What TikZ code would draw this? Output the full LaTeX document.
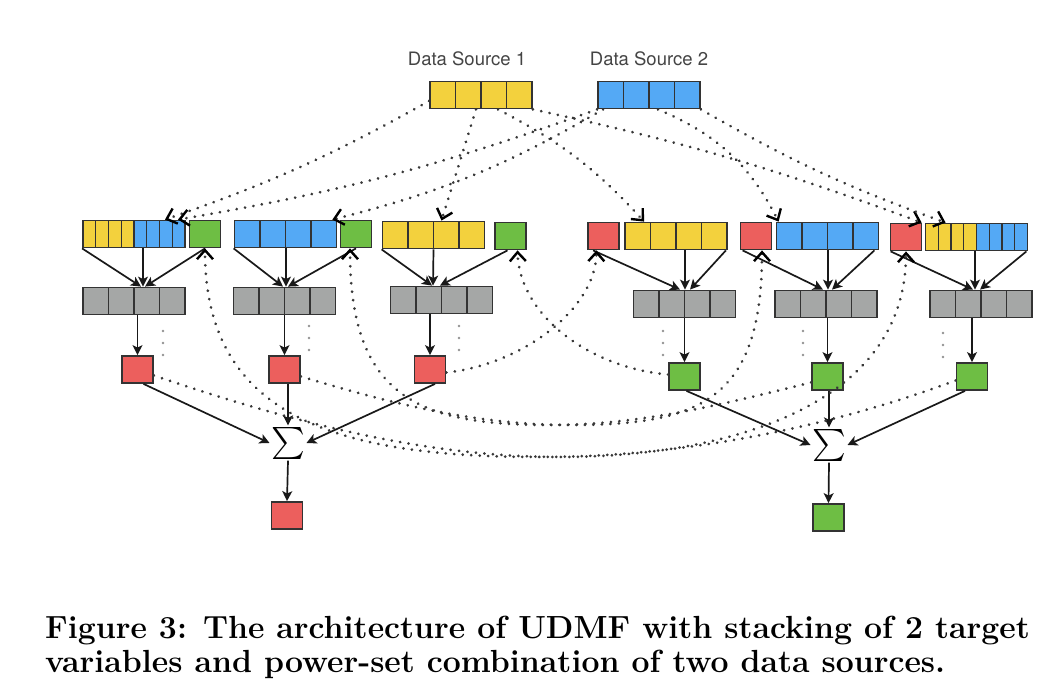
\documentclass[tikz,border=0pt]{standalone}
\usepackage{fontspec}
\setsansfont{TeX Gyre Heros}
\usetikzlibrary{arrows.meta}
\definecolor{yel}{HTML}{F3D13D}
\definecolor{blu}{HTML}{54A9F5}
\definecolor{grn}{HTML}{6EBE44}
\definecolor{rd}{HTML}{EC5F5D}
\definecolor{gry}{HTML}{A5A7A6}
\definecolor{edge}{HTML}{333333}
\definecolor{dotc}{HTML}{383838}
\definecolor{lblc}{HTML}{444444}
\begin{document}
\begin{tikzpicture}[x=1pt,y=-1pt,
    box/.style={draw=edge, line width=1.8pt, inner sep=0pt, minimum height=27pt},
    sq/.style={box, minimum width=31pt},
    bar/.style={box, minimum width=102pt, path picture={
        \foreach \k in {1,2,3}
          \draw[edge, line width=1.8pt] ([xshift=\k*25.5pt]path picture bounding box.south west)
            -- ([xshift=\k*25.5pt]path picture bounding box.north west);}},
    mixbar/.style={box, fill=blu, minimum width=102pt, path picture={
        \fill[yel] (path picture bounding box.south west) rectangle ([xshift=51pt]path picture bounding box.north west);
        \foreach \k in {1,...,7}
          \draw[edge, line width=1.4pt] ([xshift=\k*12.75pt]path picture bounding box.south west)
            -- ([xshift=\k*12.75pt]path picture bounding box.north west);}},
    arr/.style={line width=1.7pt, draw=black!90, -{Stealth[length=10pt,width=10pt,inset=2.5pt]}},
    dotarr/.style={draw=dotc, line width=3pt, line cap=round, dash pattern=on 0.01pt off 8.5pt,
        -{Straight Barb[length=9pt,width=16pt,line width=2.4pt,color=black]}},
    lbl/.style={font=\sffamily\fontsize{18.5}{20}\selectfont, text=lblc, anchor=base},
    sumnode/.style={inner sep=0.3pt, scale=3.2, transform shape},
    captext/.style={anchor=base west, inner sep=0pt, font=\fontsize{32}{34}\selectfont\bfseries}]
    \useasboundingbox (0,0) rectangle (1044,700);

    \node[lbl] (ds1) at (467,66) {Data Source 1};
    \node[lbl] (ds2) at (649,66) {Data Source 2};
    \node[bar, fill=yel] (src1) at (481,95) {};
    \node[bar, fill=blu] (src2) at (649,95) {};

    \node[mixbar] (in1) at (134,234) {};
    \node[sq, fill=grn] (pg1) at (205,234) {};
    \node[bar, fill=blu] (in2) at (285.5,234) {};
    \node[sq, fill=grn] (pg2) at (356,234) {};
    \node[bar, fill=yel] (in3) at (433.5,235) {};
    \node[sq, fill=grn] (pg3) at (510.5,236) {};
    \node[sq, fill=rd] (pr4) at (603.5,236) {};
    \node[bar, fill=yel] (in4) at (676,236) {};
    \node[sq, fill=rd] (pr5) at (756,236) {};
    \node[bar, fill=blu] (in5) at (827.5,236) {};
    \node[sq, fill=rd] (pr6) at (906,237) {};
    \node[mixbar] (in6) at (976.5,237) {};

    \node[bar, fill=gry] (h1) at (134,301) {};
    \node[bar, fill=gry] (h2) at (284.5,301) {};
    \node[bar, fill=gry] (h3) at (441.5,300) {};
    \node[bar, fill=gry] (h4) at (684.5,304) {};
    \node[bar, fill=gry] (h5) at (826,304) {};
    \node[bar, fill=gry] (h6) at (981,304) {};

    \node[sq, fill=rd] (o1) at (137.5,369.5) {};
    \node[sq, fill=rd] (o2) at (284.5,369.5) {};
    \node[sq, fill=rd] (o3) at (430,369.5) {};
    \node[sq, fill=grn] (o4) at (684.5,376.5) {};
    \node[sq, fill=grn] (o5) at (827.5,376.5) {};
    \node[sq, fill=grn] (o6) at (972,376.5) {};

    \node[sumnode] (s1) at (288,443) {$\sum$};
    \node[sumnode] (s2) at (829,445) {$\sum$};
    \node[sq, fill=rd] (y1) at (287,515.5) {};
    \node[sq, fill=grn] (y2) at (828.5,517.5) {};

    \draw[arr] (in1.south west) -- ([xshift=7]h1.north);
    \draw[arr] ([xshift=9]in1.south) -- ([xshift=9]h1.north);
    \draw[arr] (pg1.south) -- ([xshift=11]h1.north);
    \draw[arr] (in2.south west) -- ([xshift=-1.5]h2.north);
    \draw[arr] ([xshift=0.5]in2.south) -- ([xshift=1.5]h2.north);
    \draw[arr] (pg2.south) -- ([xshift=3.5]h2.north);
    \draw[arr] (in3.south west) -- ([xshift=-9.5]h3.north);
    \draw[arr] (in3.south) -- ([xshift=-8.5]h3.north);
    \draw[arr] ([xshift=-3]pg3.south) -- ([xshift=-1.5]h3.north);
    \draw[arr] ([xshift=6]pr4.south west) -- ([xshift=-4.5]h4.north);
    \draw[arr] ([xshift=9]in4.south) -- ([xshift=0.5]h4.north);
    \draw[arr] ([xshift=-2]in4.south east) -- ([xshift=5.5]h4.north);
    \draw[arr] ([xshift=3]pr5.south west) -- ([xshift=-3]h5.north);
    \draw[arr] ([xshift=0.5]in5.south) -- ([xshift=2]h5.north);
    \draw[arr] ([xshift=-5]in5.south east) -- ([xshift=6]h5.north);
    \draw[arr] ([xshift=1]pr6.south west) -- ([xshift=-8]h6.north);
    \draw[arr] ([xshift=-1.5]in6.south) -- ([xshift=-6]h6.north);
    \draw[arr] ([xshift=-2]in6.south east) -- ([xshift=-1]h6.north);

    \foreach \i in {1,...,6}
      \draw[arr] (h\i.south -| o\i) -- (o\i.north);
    \foreach \x/\y in {163/331, 309/326, 459/326, 663/331, 803/331, 943/333}
      \foreach \d in {0,12,24}
        \fill[dotc!55] (\x,\y+\d) circle (1.3);

    \draw[arr] ([xshift=6]o1.south) -- (s1.west);
    \draw[arr] (o2.south -| s1.north) -- (s1.north);
    \draw[arr] ([xshift=5]o3.south) -- (s1.east);
    \draw[arr] (s1.south) -- (y1.north);
    \draw[arr] ([xshift=2]o4.south) -- (s2.west);
    \draw[arr] (o5.south -| s2.north) -- (s2.north);
    \draw[arr] ([xshift=-7]o6.south) -- (s2.east);
    \draw[arr] (s2.south) -- (y2.north);

    \draw[dotarr] ([yshift=-6]src1.west) to[bend left=5] ([xshift=31]in1.north);
    \draw[dotarr] (src2.south west) to[bend left=5] ([xshift=44]in1.north);
    \draw[dotarr] ([xshift=6]src2.south west) to[bend left=8] ([xshift=-5]in2.north east);
    \draw[dotarr] ([xshift=-5]src1.south) -- ([xshift=8]in3.north);
    \draw[dotarr] ([xshift=17]src1.south) to[bend left=10] ([xshift=20]in4.north west);
    \draw[dotarr] (src1.south east) to[bend left=4] ([xshift=-3]in6.north west);
    \draw[dotarr] ([xshift=9]src2.south) to[bend left=20] ([xshift=3]in5.north west);
    \draw[dotarr] (src2.south east) to[bend right=5] ([xshift=21]in6.north west);

    \draw[dotarr] ([yshift=-6]o1.east) .. controls (300,425) and (430,457) .. (560,457)
      .. controls (720,457) and ([yshift=-158]pr6.south) .. (pr6.south);
    \draw[dotarr] ([yshift=-4]o6.west) .. controls (850,420) and (700,457) .. (540,457)
      .. controls (340,457) and ([yshift=-170]pg1.south) .. (pg1.south);
    \draw[dotarr] ([yshift=-7]o2.east) .. controls (380,400) and (470,425) .. (570,425)
      .. controls (700,425) and ([xshift=6,yshift=-150]pr5.south) .. ([xshift=6]pr5.south);
    \draw[dotarr] ([yshift=-6]o5.west) .. controls (720,405) and (640,425) .. (550,425)
      .. controls (420,425) and ([xshift=-6,yshift=-150]pg2.south) .. ([xshift=-6]pg2.south);
    \draw[dotarr] ([yshift=-3]o3.east) .. controls (520,365) and ([xshift=-8,yshift=-60]pr4.south) .. ([xshift=-7]pr4.south);
    \draw[dotarr] ([yshift=2]o4.west) .. controls (590,368) and ([xshift=9,yshift=-65]pg3.south) .. ([xshift=7]pg3.south);

    \node[captext] (cap1) at (45,638) {Figure 3: The architecture of UDMF with stacking of 2 target};
    \node[captext] (cap2) at (45,672) {variables and power-set combination of two data sources.};
\end{tikzpicture}
\end{document}
